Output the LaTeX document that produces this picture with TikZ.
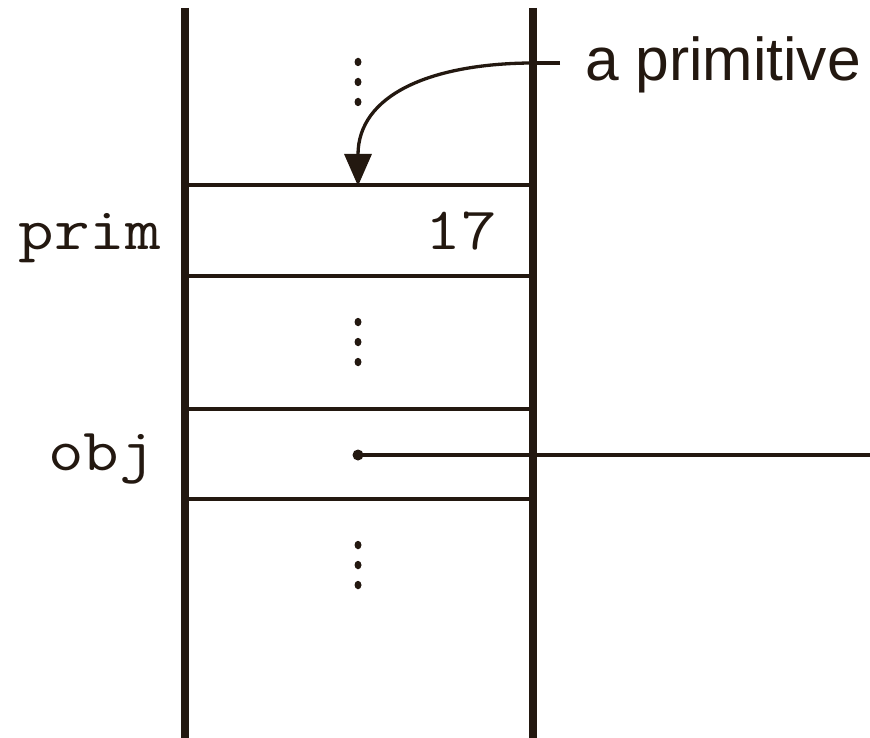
\documentclass[tikz,border=0pt]{standalone}
\usepackage{fontspec}
\setmainfont{Liberation Sans}
\setmonofont{Latin Modern Mono}[FakeStretch=1.15]
\usetikzlibrary{arrows.meta,shapes.geometric}
\definecolor{ink}{RGB}{35,24,16}
\begin{document}
\begin{tikzpicture}[x=1pt,y=-1pt,
  wall/.style={line width=8pt,draw=ink},
  shelf/.style={line width=3.8pt,draw=ink},
  vdot/.style={ellipse,fill=ink,minimum width=7pt,minimum height=8.5pt,inner sep=0pt},
  mono/.style={font=\fontsize{60}{60}\selectfont\ttfamily,text=ink,inner sep=0pt},
  sans/.style={font=\fontsize{60.5}{60.5}\selectfont,text=ink,inner sep=0pt}]
\useasboundingbox (0,0) rectangle (870,738);
% walls
\coordinate (lt) at (185,8); \coordinate (lb) at (185,738);
\coordinate (rt) at (533,8); \coordinate (rb) at (533,738);
\draw[wall] (lt) -- (lb);
\draw[wall] (rt) -- (rb);
% shelves
\foreach \y/\n in {185/a,276/b,409/c,499/d}{
  \coordinate (s\n l) at (189,\y); \coordinate (s\n r) at (529,\y);
  \draw[shelf] (s\n l) -- (s\n r);
}
% dots
\foreach \y [count=\i] in {62,82,102,322,342,362,545,565,585}{
  \node[vdot] (d\i) at (358,\y) {};
}
% labels
\node[mono,anchor=base east] (prim) at (161,250) {prim};
\node[mono,anchor=base east] (v17) at (497,250) {17};
\node[mono,anchor=base east] (obj) at (155,470) {obj};
\node[sans,anchor=base west] (lbl) at (585,81) {a primitive};
% arrow to shelf
\coordinate (tickR) at (560,63);
\coordinate (curveS) at (530,63);
\coordinate (tip) at (358,186);
\draw[line width=3.3pt,draw=ink] (tickR) -- (curveS);
\draw[line width=3.3pt,draw=ink,-{Triangle[length=32pt,width=27pt]}]
  (curveS) .. controls (430,64) and (358,95) .. (tip);
% pointer
\node[circle,fill=ink,minimum size=11pt,inner sep=0pt] (ptr) at (358,455) {};
\coordinate (pend) at (870,455);
\draw[line width=3.8pt,draw=ink] (ptr.center) -- (pend);
\end{tikzpicture}
\end{document}
